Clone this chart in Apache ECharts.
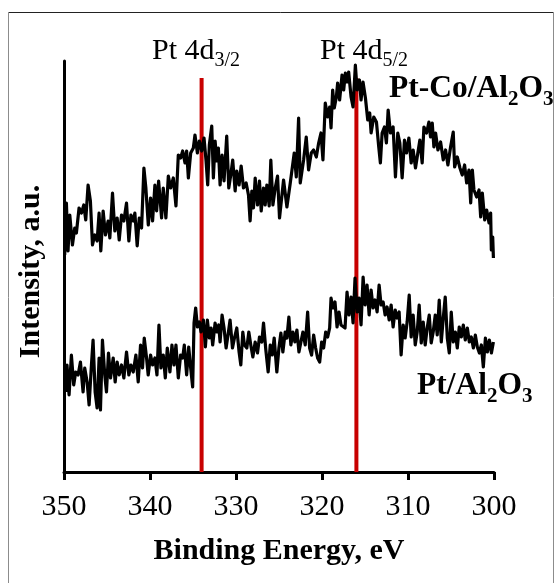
<!DOCTYPE html>
<html>
<head>
<meta charset="utf-8">
<script src="https://cdn.jsdelivr.net/npm/echarts@6/dist/echarts.min.js"></script>
<style>
  html, body { margin: 0; padding: 0; background: #ffffff; }
  #chart { width: 555px; height: 583px; }
</style>
</head>
<body>
<div id="chart"></div>
<script>
// XPS Pt 4d region: binding energy (eV) and intensity (a.u.)
const energyRange = [300, 350];
const energyStep = 10;

const ptCoEnergy = [
  349.92, 349.72, 349.53, 349.33, 349.02, 348.75, 348.56, 348.25, 347.97, 347.70,
  347.47, 347.20, 346.93, 346.69, 346.42, 346.15, 345.92, 345.72, 345.45, 345.18,
  344.87, 344.67, 344.36, 344.09, 343.82, 343.58, 343.31, 343.04, 342.73, 342.46,
  342.22, 341.95, 341.76, 341.49, 341.25, 340.98, 340.71, 340.48, 340.20, 339.93,
  339.70, 339.43, 339.23, 339.00, 338.65, 338.46, 338.15, 337.87, 337.60, 337.29,
  336.98, 336.71, 336.44, 336.20, 335.93, 335.74, 335.54, 335.27, 334.96, 334.77,
  334.49, 334.26, 333.99, 333.72, 333.48, 333.29, 333.10, 332.82, 332.63, 332.43,
  332.24, 332.05, 331.85, 331.62, 331.39, 331.08, 330.84, 330.61, 330.38, 330.10,
  329.91, 329.64, 329.40, 329.13, 328.82, 328.55, 328.36, 328.16, 327.97, 327.77,
  327.50, 327.27, 327.07, 326.80, 326.61, 326.41, 326.14, 325.95, 325.71, 325.44,
  325.17, 324.94, 324.47, 324.08, 323.69, 323.23, 322.99, 322.72, 322.53, 322.14,
  321.83, 321.56, 321.25, 320.98, 320.66, 320.39, 320.12, 319.89, 319.62, 319.34,
  319.11, 318.95, 318.76, 318.57, 318.33, 318.18, 317.95, 317.67, 317.48, 317.28,
  317.09, 316.90, 316.62, 316.39, 316.12, 315.92, 315.65, 315.46, 315.23, 314.95,
  314.68, 314.45, 314.29, 313.98, 313.67, 313.40, 313.21, 313.01, 312.74, 312.51,
  312.31, 312.04, 311.73, 311.46, 311.19, 310.95, 310.68, 310.41, 310.17, 309.90,
  309.63, 309.40, 309.13, 308.93, 308.62, 308.35, 308.15, 307.84, 307.57, 307.38,
  307.18, 306.99, 306.79, 306.52, 306.21, 305.90, 305.63, 305.36, 305.05, 304.74,
  304.58, 304.27, 303.96, 303.69, 303.42, 303.18, 302.91, 302.71, 302.52, 302.33,
  302.02, 301.74, 301.55, 301.36, 301.08, 300.85, 300.58, 300.39, 300.31, 300.15,
  300.07
];
const ptCoIntensity = [
  217, 269, 221, 257, 227, 244, 239, 264, 259, 267,
  252, 287, 271, 227, 237, 231, 259, 221, 261, 237,
  251, 234, 279, 241, 254, 232, 257, 251, 269, 231,
  257, 251, 259, 226, 254, 244, 304, 284, 247, 274,
  251, 287, 261, 291, 254, 284, 254, 296, 284, 294,
  266, 317, 314, 321, 309, 321, 294, 319, 324, 337,
  319, 331, 321, 334, 311, 287, 327, 346, 294, 331,
  311, 324, 287, 317, 291, 336, 284, 297, 312, 281,
  301, 287, 306, 284, 289, 277, 251, 281, 264, 294,
  267, 291, 261, 284, 267, 287, 266, 312, 267, 284,
  296, 254, 292, 265, 289, 319, 295, 354, 289, 312,
  335, 302, 319, 322, 315, 329, 339, 312, 369, 355,
  365, 344, 382, 364, 375, 389, 372, 397, 382, 399,
  390, 400, 375, 365, 407, 382, 392, 372, 390, 374,
  352, 359, 339, 355, 350, 325, 309, 339, 345, 329,
  362, 339, 345, 295, 339, 329, 294, 332, 319, 334,
  309, 322, 304, 315, 332, 309, 345, 339, 350, 335,
  349, 325, 339, 322, 330, 312, 322, 307, 325, 340,
  305, 315, 304, 297, 307, 289, 302, 269, 302, 282,
  275, 282, 255, 279, 252, 262, 249, 259, 222, 235,
  214
];

const ptEnergy = [
  349.80, 349.65, 349.41, 349.14, 348.87, 348.64, 348.36, 348.09, 347.78, 347.59,
  347.31, 347.08, 346.81, 346.62, 346.38, 346.15, 345.92, 345.76, 345.53, 345.26,
  345.06, 344.83, 344.59, 344.28, 344.05, 343.82, 343.58, 343.31, 343.04, 342.73,
  342.46, 342.22, 341.95, 341.64, 341.37, 341.10, 340.87, 340.67, 340.40, 340.21,
  339.93, 339.70, 339.43, 339.19, 338.96, 338.73, 338.46, 338.22, 337.99, 337.68,
  337.45, 337.21, 336.98, 336.71, 336.44, 336.20, 336.01, 335.74, 335.50, 335.27,
  335.04, 334.88, 334.69, 334.49, 334.26, 334.07, 333.79, 333.56, 333.33, 333.10,
  332.90, 332.71, 332.43, 332.24, 332.01, 331.85, 331.62, 331.39, 331.15, 330.88,
  330.69, 330.41, 330.18, 329.91, 329.64, 329.44, 329.21, 329.02, 328.74, 328.51,
  328.28, 328.04, 327.77, 327.50, 327.27, 327.00, 326.80, 326.53, 326.26, 326.02,
  325.79, 325.56, 325.25, 325.01, 324.78, 324.55, 324.28, 324.08, 323.85, 323.62,
  323.38, 323.15, 322.92, 322.68, 322.45, 322.22, 321.95, 321.67, 321.44, 321.21,
  320.97, 320.74, 320.51, 320.27, 320.04, 319.81, 319.57, 319.34, 319.11, 318.95,
  318.72, 318.49, 318.25, 318.02, 317.79, 317.56, 317.32, 317.09, 316.86, 316.62,
  316.39, 316.16, 315.92, 315.69, 315.46, 315.22, 314.99, 314.76, 314.52, 314.29,
  314.06, 313.83, 313.59, 313.36, 313.13, 312.89, 312.66, 312.43, 312.19, 311.96,
  311.73, 311.49, 311.26, 311.03, 310.80, 310.56, 310.33, 310.10, 309.86, 309.63,
  309.40, 309.16, 308.93, 308.70, 308.46, 308.23, 308.00, 307.77, 307.53, 307.30,
  307.07, 306.83, 306.60, 306.37, 306.13, 305.90, 305.67, 305.43, 305.20, 304.97,
  304.74, 304.50, 304.27, 304.04, 303.80, 303.57, 303.34, 303.10, 302.87, 302.64,
  302.40, 302.17, 301.94, 301.70, 301.47, 301.24, 301.00, 300.77, 300.54, 300.30,
  300.07
];
const ptIntensity = [
  80, 107, 77, 117, 87, 100, 97, 110, 80, 104,
  90, 67, 107, 132, 80, 64, 114, 62, 132, 97,
  80, 119, 94, 114, 90, 110, 97, 107, 94, 120,
  97, 107, 100, 117, 90, 127, 104, 134, 114, 97,
  117, 107, 114, 97, 147, 104, 117, 94, 124, 100,
  127, 107, 127, 94, 117, 114, 127, 97, 125, 104,
  85, 149, 164, 145, 150, 140, 152, 125, 152, 134,
  144, 127, 149, 140, 147, 130, 157, 144, 124, 140,
  152, 124, 134, 144, 120, 107, 140, 127, 124, 140,
  127, 115, 130, 119, 135, 130, 149, 122, 100, 127,
  117, 134, 100, 124, 139, 120, 140, 134, 155, 127,
  140, 130, 142, 120, 130, 140, 127, 160, 124, 117,
  137, 124, 114, 110, 130, 124, 140, 135, 144, 174,
  164, 170, 145, 160, 147, 149, 144, 180, 157, 175,
  149, 194, 160, 174, 147, 195, 167, 187, 157, 182,
  164, 172, 160, 187, 167, 170, 157, 165, 152, 167,
  145, 162, 154, 160, 117, 147, 134, 150, 177, 135,
  157, 127, 140, 167, 129, 150, 127, 144, 157, 129,
  140, 157, 137, 172, 130, 154, 175, 134, 119, 160,
  130, 140, 124, 145, 135, 147, 132, 144, 130, 135,
  124, 137, 125, 119, 127, 105, 134, 120, 132, 119,
  130
];

// Reference peak positions (eV) and the height of their marker lines
const peakEnergies = [334, 316];
const peakMarkerTop = 394;
const peakNames = ['Pt 4d', 'Pt 4d'];
const peakOrbitals = ['3/2', '5/2'];
const intensityMax = 411;

const serif = '"Liberation Serif", "Times New Roman", serif';

function pairs(xs, ys) {
  return xs.map((x, i) => [x, ys[i]]);
}

const spectrumLine = (name, xs, ys) => ({
  name: name,
  type: 'line',
  data: pairs(xs, ys),
  showSymbol: false,
  symbol: 'none',
  lineStyle: { color: '#000000', width: 3.2, join: 'round' },
  z: 3,
  silent: true
});

const peakLines = peakEnergies.map((e) => ({
  type: 'line',
  data: [[e, 0], [e, peakMarkerTop]],
  showSymbol: false,
  symbol: 'none',
  lineStyle: { color: '#c80000', width: 4 },
  z: 2,
  silent: true
}));

// main text and lowered subscript, both hung from the top of the line box
const mainStyle = (weight, size) => ({
  fontFamily: serif, fontSize: size, fontWeight: weight,
  lineHeight: size, verticalAlign: 'top', fill: '#000'
});
const subStyle = (weight, size) => ({
  fontFamily: serif, fontSize: Math.round(size * 0.67), fontWeight: weight,
  lineHeight: Math.round(size * 0.67), verticalAlign: 'top',
  padding: [Math.round(size * 0.5), 0, 0, 0], fill: '#000'
});

const richText = (weight, size) => ({ m: mainStyle(weight, size), s: subStyle(weight, size) });

const chart = echarts.init(document.getElementById('chart'), null, { renderer: 'canvas' });

chart.setOption({
  animation: false,
  backgroundColor: '#ffffff',
  grid: { left: 64, right: 61, top: 61, bottom: 111, containLabel: false },
  xAxis: {
    type: 'value',
    inverse: true,
    min: energyRange[0],
    max: energyRange[1],
    interval: energyStep,
    name: 'Binding Energy, eV',
    nameLocation: 'middle',
    nameGap: 64,
    nameTextStyle: { fontFamily: serif, fontSize: 30, fontWeight: 'bold', color: '#000' },
    axisLine: { show: true, onZero: false, lineStyle: { color: '#000', width: 3 } },
    axisTick: { show: true, inside: false, length: 8, lineStyle: { color: '#000', width: 3 } },
    axisLabel: { fontFamily: serif, fontSize: 30, color: '#000', margin: 20 },
    splitLine: { show: false }
  },
  yAxis: {
    type: 'value',
    min: 0,
    max: intensityMax,
    name: 'Intensity, a.u.',
    nameLocation: 'middle',
    nameGap: 18,
    nameTextStyle: { fontFamily: serif, fontSize: 30, fontWeight: 'bold', color: '#000', padding: [0, 10, 0, 0] },
    axisLine: { show: true, onZero: false, lineStyle: { color: '#000', width: 3 } },
    axisTick: { show: false },
    axisLabel: { show: false },
    splitLine: { show: false }
  },
  graphic: [
    { type: 'line', shape: { x1: 8, y1: 12.5, x2: 553.5, y2: 12.5 }, style: { stroke: '#222', lineWidth: 1 }, silent: true },
    { type: 'line', shape: { x1: 8.5, y1: 12, x2: 8.5, y2: 583 }, style: { stroke: '#8c8c8c', lineWidth: 1 }, silent: true },
    { type: 'line', shape: { x1: 553.5, y1: 12, x2: 553.5, y2: 583 }, style: { stroke: '#8c8c8c', lineWidth: 1 }, silent: true },
    {
      type: 'text', left: 152, top: 36, silent: true,
      style: { text: '{m|' + peakNames[0] + '}{s|' + peakOrbitals[0] + '}', rich: richText('normal', 30) }
    },
    {
      type: 'text', left: 320, top: 36, silent: true,
      style: { text: '{m|' + peakNames[1] + '}{s|' + peakOrbitals[1] + '}', rich: richText('normal', 30) }
    },
    {
      type: 'text', left: 389, top: 73, silent: true,
      style: { text: '{m|Pt-Co/Al}{s|2}{m|O}{s|3}', rich: richText('bold', 31.5) }
    },
    {
      type: 'text', left: 417, top: 370, silent: true,
      style: { text: '{m|Pt/Al}{s|2}{m|O}{s|3}', rich: richText('bold', 31.5) }
    }
  ],
  series: [
    ...peakLines,
    spectrumLine('Pt-Co/Al2O3', ptCoEnergy, ptCoIntensity),
    spectrumLine('Pt/Al2O3', ptEnergy, ptIntensity)
  ]
});
</script>
</body>
</html>
